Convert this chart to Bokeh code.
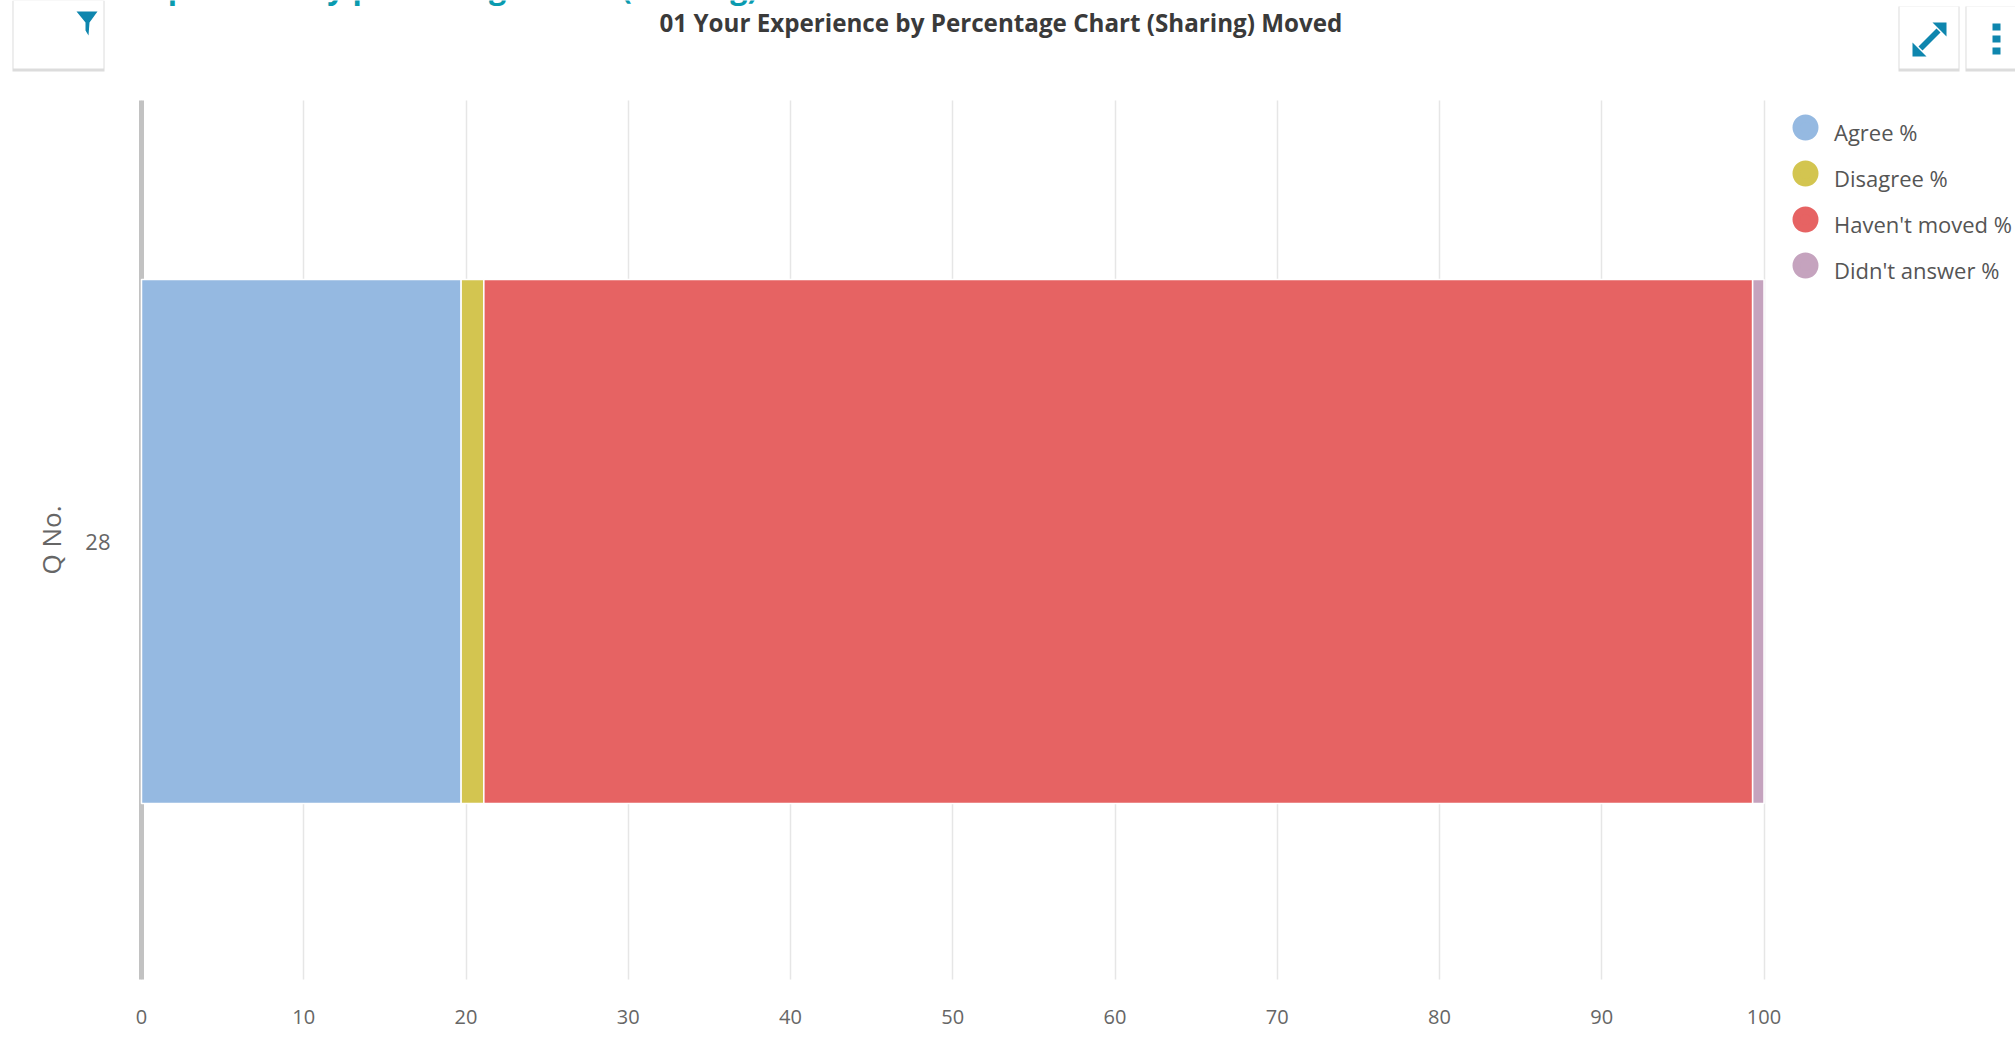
from bokeh.plotting import figure
from bokeh.models import (ColumnDataSource, Range1d, Legend, LegendItem, Label,
                          BoxAnnotation, PolyAnnotation, FixedTicker, Grid)
from bokeh.embed import file_html
from bokeh.resources import INLINE

categories = ["28"]
series_names = ["Agree %", "Disagree %", "Haven't moved %", "Didn't answer %"]
agree = [19.7]
disagree = [1.4]
havent_moved = [78.2]
didnt_answer = [0.7]
colors = ["#95B9E1", "#D3C550", "#E66363", "#C5A3BE"]
x_ticks = [0, 10, 20, 30, 40, 50, 60, 70, 80, 90, 100]
title_text = "01 Your Experience by Percentage Chart (Sharing) Moved"
page_heading = "01 Your Experience by percentage chart (Sharing) Moved"
FONT = "Open Sans"

# layout: the plotting frame fills the page; scales place 0..100 and the band in it
W, H = 2015, 1051
X0, X100 = 141, 1763.5
Y_TOP, Y_BOT, Y_MID = 100, 979, 541
ppx = (X100 - X0) / 100
ppy = Y_BOT - Y_TOP
y_top_val = (Y_MID - Y_TOP) / ppy
y_bot_val = (Y_MID - Y_BOT) / ppy
positions = list(range(len(categories)))

src = ColumnDataSource(dict(q=positions, a=agree, b=disagree, c=havent_moved, d=didnt_answer))

p = figure(width=W, height=H, output_backend="svg", toolbar_location=None,
           x_range=Range1d(-X0 / ppx, (W - X0) / ppx),
           y_range=Range1d((Y_MID - H) / ppy, Y_MID / ppy),
           min_border=0, outline_line_color=None, background_fill_color="white", tools="")
p.title = None

rs = p.hbar_stack(["a", "b", "c", "d"], y="q", height=524 / ppy, color=colors, source=src,
                  line_color="white", line_width=1.5, level="overlay")

xa = p.xaxis[0]
xa.fixed_location = y_bot_val
xa.ticker = FixedTicker(ticks=x_ticks)
xa.axis_line_color = None
xa.major_tick_line_color = None
xa.minor_tick_line_color = None
xa.major_label_text_font = FONT
xa.major_label_text_font_size = "20px"
xa.major_label_text_color = "#666666"
xa.major_label_standoff = 24

ya = p.yaxis[0]
ya.fixed_location = 0
ya.bounds = (y_bot_val, y_top_val)
ya.ticker = FixedTicker(ticks=positions)
ya.major_label_overrides = {i: c for i, c in enumerate(categories)}
ya.axis_line_color = "#c2c2c2"
ya.axis_line_width = 5
ya.major_tick_line_color = None
ya.minor_tick_line_color = None
ya.major_label_text_font = FONT
ya.major_label_text_font_size = "22px"
ya.major_label_text_color = "#666666"
ya.major_label_standoff = 25
ya.axis_label = "Q No."
ya.axis_label_text_font = FONT
ya.axis_label_text_font_size = "26px"
ya.axis_label_text_font_style = "normal"
ya.axis_label_text_color = "#666666"
ya.axis_label_standoff = 13

p.ygrid.grid_line_color = None
if "cross_bounds" in Grid.properties():
    p.xgrid.ticker = FixedTicker(ticks=x_ticks)
    p.xgrid.cross_bounds = (y_bot_val, y_top_val)
    p.xgrid.grid_line_color = "#e6e6e6"
    p.xgrid.grid_line_width = 1.5
else:
    p.xgrid.grid_line_color = None
    p.segment(x0=x_ticks, x1=x_ticks, y0=[y_bot_val] * len(x_ticks), y1=[y_top_val] * len(x_ticks),
              line_color="#e6e6e6", line_width=1.5, level="underlay")

p.add_layout(Label(x=659, y=22, x_units="canvas", y_units="canvas", text=title_text, text_font=FONT,
                   text_font_size="24.2px", text_font_style="bold", text_color="#3a3a3a",
                   text_baseline="middle"))

text_items, dot_items = [], []
for name, col in zip(series_names, colors):
    r0 = p.scatter(x=[float("nan")], y=[float("nan")], size=18, fill_alpha=0, line_alpha=0, marker="circle")
    r1 = p.scatter(x=[float("nan")], y=[float("nan")], size=18, fill_color=col, line_color=col, line_width=7.6,
                   marker="circle")
    text_items.append(LegendItem(label=name, renderers=[r0]))
    dot_items.append(LegendItem(label=" ", renderers=[r1]))

common = dict(orientation="vertical", glyph_width=46, glyph_height=46, label_height=20, spacing=0, padding=0, margin=0,
              border_line_color=None, background_fill_alpha=0, label_text_baseline="middle")
p.add_layout(Legend(items=dot_items, location=(1782, 763), label_standoff=6, label_text_font_size="10px", **common),
             "center")
p.add_layout(Legend(items=text_items, location=(1782, 758), label_standoff=6, label_text_font=FONT,
                    label_text_font_size="22px", label_text_color="#555555", **common), "center")


def box(l, r, t, b, c):
    p.add_layout(BoxAnnotation(left=l, right=r, top=t, bottom=b, left_units="canvas", right_units="canvas",
                               top_units="canvas", bottom_units="canvas", fill_color=c, fill_alpha=1,
                               line_color=None))


for l, r, t, b in [(13, 103, 0, 68), (1899, 1958, 6, 68), (1966, 2015, 6, 68)]:
    box(l - 1, r + 1, t, b + 3, "#dcdcdc")
    box(l, r, t, b, "white")


def poly(xs, ys, c):
    p.add_layout(PolyAnnotation(xs=xs, ys=ys, xs_units="canvas", ys_units="canvas", fill_color=c, fill_alpha=1,
                                line_color=None))


teal = "#0E86AE"
poly([76, 97, 89, 88, 85, 85], [11, 11, 22, 35, 30, 22], teal)
poly([1932, 1946, 1946], [22, 22, 36], teal)
poly([1912, 1912, 1926], [42, 56, 56], teal)
poly([1918, 1936, 1940, 1922], [46, 28, 32, 50], teal)
for y0 in (23, 35, 47):
    box(1992, 2000, y0, y0 + 7, teal)

p.add_layout(Label(x=10, y=-14, x_units="canvas", y_units="canvas", text=page_heading, text_font=FONT,
                   text_font_size="30.5px", text_font_style="bold", text_color="#0A9BAF",
                   text_baseline="alphabetic"))

open("out.html", "w").write(file_html(p, INLINE))
